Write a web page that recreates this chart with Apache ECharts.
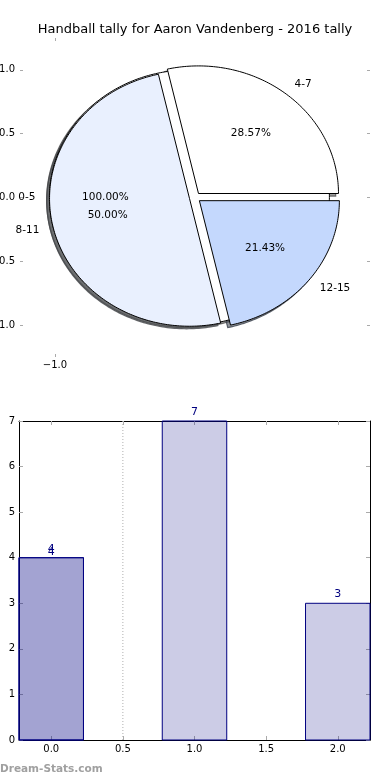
<!DOCTYPE html>
<html><head><meta charset="utf-8">
<script src="https://cdn.jsdelivr.net/npm/echarts@6/dist/echarts.min.js"></script>
<style>html,body{margin:0;padding:0;background:#fff}#c{width:390px;height:780px}</style>
</head><body><div id="c"></div>
<script>
// ---- data ----
const titleText = 'Handball tally for Aaron Vandenberg - 2016 tally';
// first (underlying) pie: a single slice, drawn as 100%
const basePieLabels = ['0-5'];
const basePieValues = [4];
const basePieColors = ['#ffffff'];
// second pie drawn on top
const pieLabels = ['4-7', '8-11', '12-15'];
const pieValues = [4, 7, 3];
const pieColors = ['#ffffff', '#e9f0fe', '#c4d8fd'];
const pieTickY = [-1, -0.5, 0, 0.5, 1];
const pieTickX = [-1];
const barX = [0, 1, 2];
const barValuesA = [4, 7, 3];
const barXB = [0];
const barValuesB = [4];
const barTickX = [0, 0.5, 1, 1.5, 2];
const barTickY = [0, 1, 2, 3, 4, 5, 6, 7];
const refLineX = 0.5;
const watermark = 'Dream-Stats.com';

const FONT = 'DejaVu Sans';
const EXPLODE = 0.04;
function buildSlices(labels, values, colors, layer) {
  const total = values.reduce((a, b) => a + b, 0);
  let acc = 0;
  return values.map((v, i) => {
    const a1 = acc; acc += 360 * v / total;
    return { layer: layer, label: labels[i], pct: (100 * v / total).toFixed(2) + '%',
      a1: a1, a2: acc, color: colors[i], full: v === total };
  });
}
const slices = buildSlices(basePieLabels, basePieValues, basePieColors, 0)
  .concat(buildSlices(pieLabels, pieValues, pieColors, 1));
function mid(s) { return (s.a1 + s.a2) / 2 * Math.PI / 180; }
function shade(hex, a) {
  const n = parseInt(hex.slice(1), 16);
  const r = Math.round(((n >> 16) & 255) * 0.3), g = Math.round(((n >> 8) & 255) * 0.3), b = Math.round((n & 255) * 0.3);
  return 'rgba(' + r + ',' + g + ',' + b + ',' + a + ')';
}
function wedgePts(api, s, dx, dy) {
  const m = mid(s);
  const cx = EXPLODE * Math.cos(m) + dx, cy = EXPLODE * Math.sin(m) + dy;
  const pts = s.full ? [] : [api.coord([cx, cy])];
  const n = Math.max(2, Math.ceil(s.a2 - s.a1));
  for (let k = 0; k <= n; k++) {
    const t = (s.a1 + (s.a2 - s.a1) * k / n) * Math.PI / 180;
    pts.push(api.coord([cx + Math.cos(t), cy + Math.sin(t)]));
  }
  return pts;
}
const fmt1 = v => (v < 0 ? '\u2212' : '') + Math.abs(v).toFixed(1);
const tickStyle = { color: '#aaaaaa', width: 1 };
const lblStyle = { color: '#000', fontSize: 10, fontFamily: FONT };
const sliceData = slices.map((s, k) => [k, s.layer]);

function wedgeSeries(layer, z) {
  return { type: 'custom', xAxisIndex: 0, yAxisIndex: 0, z: z, clip: false, data: sliceData,
    renderItem: function (params, api) {
      const s = slices[api.value(0)];
      if (s.layer !== layer) return null;
      return { type: 'polygon', shape: { points: wedgePts(api, s, 0, 0) },
        style: { fill: s.color, stroke: '#000', lineWidth: 1 } };
    } };
}

const chart = echarts.init(document.getElementById('c'), null, { renderer: 'canvas' });
chart.setOption({
  animation: false,
  backgroundColor: '#fff',
  title: {
    text: titleText, left: 'center', top: 23, padding: 0,
    textStyle: { fontSize: 13, fontWeight: 'normal', fontFamily: FONT, color: '#000' }
  },
  graphic: [{
    type: 'text', left: 0, top: 764,
    style: { text: watermark, fill: '#a0a0a0', fontSize: 10.5, fontWeight: 'bold', fontFamily: FONT }
  }],
  grid: [
    { left: 20, top: 38, width: 350, height: 319, containLabel: false, outerBoundsMode: 'none' },
    { left: 19, top: 421, width: 351, height: 319, containLabel: false, outerBoundsMode: 'none' }
  ],
  xAxis: [
    { gridIndex: 0, type: 'value', position: 'bottom', min: -1.25, max: 1.25,
      axisLine: { show: false, onZero: false }, splitLine: { show: false },
      axisTick: { inside: true, length: 3, lineStyle: tickStyle, customValues: pieTickX },
      axisLabel: Object.assign({ customValues: pieTickX, formatter: fmt1, margin: 3 }, lblStyle) },
    { gridIndex: 0, type: 'value', position: 'top', min: -1.25, max: 1.25,
      axisLine: { show: false, onZero: false }, splitLine: { show: false },
      axisTick: { inside: true, length: 3, lineStyle: tickStyle, customValues: pieTickX },
      axisLabel: { show: false } },
    { gridIndex: 1, type: 'value', position: 'bottom', min: -0.225, max: 2.225,
      axisLine: { show: true, onZero: false, lineStyle: { color: '#000', width: 1 } }, splitLine: { show: false },
      axisTick: { inside: true, length: 4, lineStyle: tickStyle, customValues: barTickX },
      axisLabel: Object.assign({ customValues: barTickX, formatter: fmt1, margin: 4 }, lblStyle) },
    { gridIndex: 1, type: 'value', position: 'top', min: -0.225, max: 2.225,
      axisLine: { show: true, onZero: false, lineStyle: { color: '#000', width: 1 } }, splitLine: { show: false },
      axisTick: { inside: true, length: 4, lineStyle: tickStyle, customValues: barTickX },
      axisLabel: { show: false } }
  ],
  yAxis: [
    { gridIndex: 0, type: 'value', position: 'left', min: -1.25, max: 1.25,
      axisLine: { show: false, onZero: false }, splitLine: { show: false },
      axisTick: { inside: true, length: 3, lineStyle: tickStyle, customValues: pieTickY },
      axisLabel: Object.assign({ customValues: pieTickY, formatter: fmt1, margin: 5 }, lblStyle) },
    { gridIndex: 0, type: 'value', position: 'right', min: -1.25, max: 1.25,
      axisLine: { show: false, onZero: false }, splitLine: { show: false },
      axisTick: { inside: true, length: 3, lineStyle: tickStyle, customValues: pieTickY },
      axisLabel: { show: false } },
    { gridIndex: 1, type: 'value', position: 'left', min: 0, max: 7,
      axisLine: { show: true, onZero: false, lineStyle: { color: '#000', width: 1 } }, splitLine: { show: false },
      axisTick: { inside: true, length: 4, lineStyle: tickStyle, customValues: barTickY },
      axisLabel: Object.assign({ customValues: barTickY, formatter: v => String(v), margin: 4 }, lblStyle) },
    { gridIndex: 1, type: 'value', position: 'right', min: 0, max: 7,
      axisLine: { show: true, onZero: false, lineStyle: { color: '#000', width: 1 } }, splitLine: { show: false },
      axisTick: { inside: true, length: 4, lineStyle: tickStyle, customValues: barTickY },
      axisLabel: { show: false } }
  ],
  series: [
    // shadows, beneath every wedge
    { type: 'custom', xAxisIndex: 0, yAxisIndex: 0, z: 1, clip: false, data: sliceData,
      renderItem: function (params, api) {
        const s = slices[api.value(0)];
        return { type: 'polygon', shape: { points: wedgePts(api, s, -0.02, -0.02) },
          style: { fill: shade(s.color, 0.55), stroke: shade(s.color, 0.8), lineWidth: 1.2 } };
      } },
    wedgeSeries(0, 2),
    wedgeSeries(1, 3),
    // labels
    { type: 'custom', xAxisIndex: 0, yAxisIndex: 0, z: 5, clip: false, data: sliceData,
      renderItem: function (params, api) {
        const s = slices[api.value(0)];
        const m = mid(s);
        const lp = api.coord([(EXPLODE + 1.1) * Math.cos(m), (EXPLODE + 1.1) * Math.sin(m)]);
        const pp = api.coord([(EXPLODE + 0.6) * Math.cos(m), (EXPLODE + 0.6) * Math.sin(m)]);
        return { type: 'group', children: [
          { type: 'text', x: lp[0], y: lp[1],
            style: { text: s.label, fill: '#000', fontSize: 10.5, fontFamily: FONT,
              align: Math.cos(m) > 0 ? 'left' : 'right', verticalAlign: 'middle' } },
          { type: 'text', x: pp[0], y: pp[1],
            style: { text: s.pct, fill: '#000', fontSize: 10.5, fontFamily: FONT,
              align: 'center', verticalAlign: 'middle' } }
        ] };
      } },
    { type: 'line', xAxisIndex: 2, yAxisIndex: 2, z: 1, symbol: 'none', silent: true,
      data: [[refLineX, 0], [refLineX, 7]],
      lineStyle: { color: '#b0b0b0', width: 1, type: [1, 2] } },
    { type: 'custom', xAxisIndex: 2, yAxisIndex: 2, z: 3, clip: false,
      data: barX.map((x, i) => [x, barValuesA[i]]),
      renderItem: function (params, api) {
        const x = api.value(0), v = api.value(1);
        const p1 = api.coord([x - 0.225, v]), p2 = api.coord([x + 0.225, 0]);
        const c = api.coord([x, v]);
        return { type: 'group', children: [
          { type: 'rect', shape: { x: p1[0], y: p1[1], width: p2[0] - p1[0], height: p2[1] - p1[1] },
            style: { fill: 'rgba(0,0,128,0.2)', stroke: '#000080', lineWidth: 1 } },
          { type: 'text', x: c[0], y: c[1] - 9,
            style: { text: String(v), fill: '#000080', fontSize: 11, fontFamily: FONT, align: 'center', verticalAlign: 'middle' } }
        ] };
      } },
    { type: 'custom', xAxisIndex: 2, yAxisIndex: 2, z: 4, clip: false,
      data: barXB.map((x, i) => [x, barValuesB[i]]),
      renderItem: function (params, api) {
        const x = api.value(0), v = api.value(1);
        const p1 = api.coord([x - 0.225, v]), p2 = api.coord([x + 0.225, 0]);
        const c = api.coord([x, v]);
        return { type: 'group', children: [
          { type: 'rect', shape: { x: p1[0], y: p1[1], width: p2[0] - p1[0], height: p2[1] - p1[1] },
            style: { fill: 'rgba(0,0,128,0.2)', stroke: '#000080', lineWidth: 1 } },
          { type: 'text', x: c[0], y: c[1] - 6,
            style: { text: String(v), fill: '#000080', fontSize: 11, fontFamily: FONT, align: 'center', verticalAlign: 'middle' } }
        ] };
      } }
  ]
});
</script></body></html>
